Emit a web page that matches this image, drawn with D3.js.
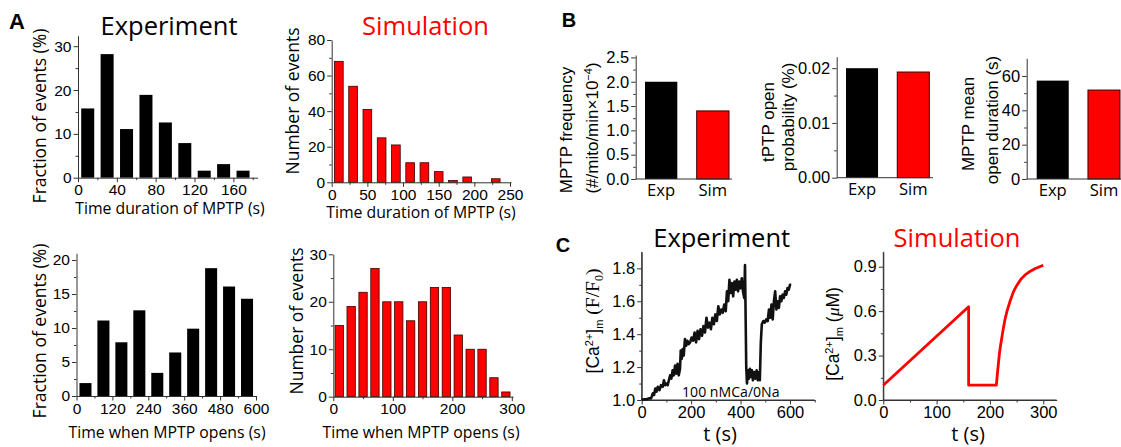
<!DOCTYPE html>
<html><head><meta charset="utf-8">
<script src="https://cdn.jsdelivr.net/npm/d3@7"></script>
<style>
body{margin:0;background:#fff}
.tick text{font-family:"Liberation Sans",Arial,sans-serif;font-size:15.5px;fill:#000}
.big .tick text{font-size:16.5px}
.domain,.tick line{stroke:#333}
</style></head><body>
<svg id="fig" width="1121" height="447"></svg>
<script>
// ---- data ----
var durBinsExp = [10, 30, 50, 70, 90, 110, 130, 150, 170];
var durPctExp = [15.8, 28.2, 11.1, 18.9, 12.6, 7.9, 1.6, 3.1, 1.6];
var durBinsSim = [10, 30, 50, 70, 90, 110, 130, 150, 170, 190, 210, 230];
var durCountSim = [68, 54, 41, 25, 21, 11, 11, 6, 1, 3, 0, 2];
var openBinsExp = [30, 90, 150, 210, 270, 330, 390, 450, 510, 570];
var openPctExp = [1.9, 11.1, 7.9, 12.6, 3.4, 6.4, 9.9, 18.8, 16.1, 14.3];
var openBinsSim = [10, 30, 50, 70, 90, 110, 130, 150, 170, 190, 210, 230, 250, 270, 290];
var openCountSim = [15, 19, 22, 27, 20, 20, 16, 20, 23, 23, 13, 10, 10, 4, 1];

var groups = ["Exp", "Sim"];
var mptpFreq = [2.0, 1.4];
var openProb = [0.020, 0.0193];
var meanDur = [57.3, 51.8];

var expT = [0,10,20,30,38,45,50,55,60,65,72,78,85,90,95,100,105,110,115,120,125,130,135,140,145,150,155,158,162,166,170,175,180,185,190,196,202,208,214,220,226,232,238,244,250,256,262,268,274,280,286,292,298,304,310,316,322,328,334,340,345,350,355,360,365,370,375,380,385,390,395,400,405,410,415,418,421,423,426,430,434,438,442,446,450,455,460,465,470,475,478,482,486,492,498,504,510,515,520,525,530,535,540,545,550,555,560,565,570,575,580,585,590,595,600,605];
var expV = [1.00,1.005,1.005,1.01,1.01,1.04,1.03,1.07,1.05,1.08,1.06,1.09,1.08,1.12,1.09,1.10,1.09,1.12,1.15,1.13,1.18,1.15,1.21,1.16,1.22,1.15,1.19,1.30,1.25,1.31,1.27,1.37,1.33,1.36,1.34,1.35,1.38,1.36,1.41,1.35,1.42,1.37,1.43,1.39,1.45,1.41,1.50,1.44,1.47,1.43,1.50,1.46,1.52,1.48,1.57,1.52,1.55,1.53,1.58,1.54,1.66,1.60,1.73,1.65,1.71,1.63,1.72,1.67,1.73,1.66,1.72,1.68,1.74,1.66,1.62,1.82,1.45,1.20,1.10,1.18,1.13,1.19,1.14,1.18,1.12,1.17,1.13,1.18,1.12,1.17,1.12,1.35,1.46,1.48,1.47,1.49,1.48,1.55,1.50,1.58,1.49,1.60,1.66,1.55,1.60,1.56,1.63,1.60,1.64,1.62,1.66,1.64,1.68,1.67,1.70,1.70];
var simT = [0, 160, 160, 212, 214, 216, 218, 220, 224, 228, 232, 238, 244, 250, 258, 266, 275, 285, 300];
var simV = [0.10, 0.63, 0.10, 0.10, 0.18, 0.25, 0.32, 0.37, 0.46, 0.54, 0.60, 0.67, 0.73, 0.772, 0.815, 0.845, 0.868, 0.888, 0.91];

var svg = d3.select("#fig");
var RED = "#ff0000";
var LAB = '"Open Sans",sans-serif';
var SANS = '"Liberation Sans",Arial,sans-serif';

// draw major + minor ticks for one axis
var drawAxis = function(g, axisFn, scale, pos, major, minor, fmt, vertical){
    var tr = vertical ? "translate(" + pos + ",0)" : "translate(0," + pos + ")";
    var ga = g.append("g").attr("transform", tr);
    ga.call(axisFn(scale).tickValues(minor).tickSize(2.5).tickSizeOuter(0).tickFormat(""));
    ga.select(".domain").remove();
    g.append("g").attr("transform", tr)
        .call(axisFn(scale).tickValues(major).tickSize(4.5).tickPadding(2).tickSizeOuter(0).tickFormat(fmt));
};

var text = function(x, y, s, size, opts){
    opts = opts || {};
    var t = svg.append("text")
        .attr("font-family", opts.font || LAB)
        .attr("font-size", size)
        .attr("text-anchor", opts.anchor || "middle")
        .attr("fill", opts.color || "#000")
        .attr("font-weight", opts.bold ? "bold" : null);
    if (opts.rot) t.attr("transform", "translate(" + x + "," + y + ") rotate(-90)").attr("dy", "0.35em");
    else t.attr("x", x).attr("y", y);
    t.text(s);
    return t;
};

// histogram panel
var histo = function(bins, vals, binW, frac, xr, xd, yr, yd, xt, xm, yt, ym, color){
    var x = d3.scaleLinear().domain(xd).range(xr);
    var y = d3.scaleLinear().domain(yd).range(yr);
    var g = svg.append("g");
    var w = (x(binW) - x(0)) * frac;
    g.selectAll("rect").data(vals).enter().append("rect")
        .attr("x", function(d, i){ return x(bins[i]) - w / 2; })
        .attr("width", w)
        .attr("y", function(d){ return y(d); })
        .attr("height", function(d){ return y(0) - y(d); })
        .attr("fill", color)
        .attr("stroke", color == RED ? "#3a0000" : "none")
        .attr("stroke-width", 0.8);
    drawAxis(g, d3.axisBottom, x, yr[0], xt, xm, d3.format("d"), false);
    drawAxis(g, d3.axisLeft, y, xr[0], yt, ym, d3.format("d"), true);
    return g;
};

histo(durBinsExp, durPctExp, 20, 0.67, [78, 257.6], [0, 185], [177.7, 35.7], [0, 32.4],
      [0, 40, 80, 120, 160], d3.range(20, 185, 40), [0, 10, 20, 30], [5, 15, 25], "#000");
histo(durBinsSim, durCountSim, 20, 0.61, [331.7, 511], [0, 251.4], [182.3, 40], [0, 80],
      [0, 50, 100, 150, 200, 250], [25, 75, 125, 175, 225], [0, 20, 40, 60, 80], [10, 30, 50, 70], RED);
histo(openBinsExp, openPctExp, 60, 0.67, [76.5, 256], [0, 600], [396, 253.2], [0, 21],
      [0, 120, 240, 360, 480, 600], [60, 180, 300, 420, 540], [0, 5, 10, 15, 20], [2.5, 7.5, 12.5, 17.5], "#000");
histo(openBinsSim, openCountSim, 20, 0.7, [333.3, 513], [0, 302], [396.7, 254.3], [0, 30],
      [0, 100, 200, 300], [50, 150, 250], [0, 10, 20, 30], [5, 15, 25], RED);

// bar panels (B)
var barPanel = function(vals, bandR, axisR, yr, yd, yt, ym, fmt){
    var x = d3.scaleBand().domain(groups).range(bandR).paddingInner(0.375);
    var y = d3.scaleLinear().domain(yd).range(yr);
    var g = svg.append("g").attr("class", "big");
    g.selectAll("rect").data(vals).enter().append("rect")
        .attr("x", function(d, i){ return x(groups[i]); })
        .attr("width", x.bandwidth())
        .attr("y", function(d){ return y(d); })
        .attr("height", function(d){ return y(0) - y(d); })
        .attr("fill", function(d, i){ return i ? RED : "#000"; })
        .attr("stroke", function(d, i){ return i ? "#3a0000" : "none"; })
        .attr("stroke-width", 1);
    g.append("line").attr("x1", axisR[0]).attr("x2", axisR[1])
        .attr("y1", yr[0]).attr("y2", yr[0]).attr("stroke", "#333");
    drawAxis(g, d3.axisLeft, y, axisR[0], yt, ym, fmt, true);
    groups.forEach(function(k){
        text(x(k) + x.bandwidth() / 2, yr[0] + 17, k, 16.6);
    });
};

barPanel(mptpFreq, [645, 729], [635.7, 732], [179, 55], [0, 2.55],
         [0, 0.5, 1, 1.5, 2, 2.5], d3.range(0.25, 2.5, 0.5), d3.format(".1f"));
barPanel(openProb, [846, 929.3], [836.7, 933], [177.7, 56.7], [0, 0.0221],
         [0, 0.01, 0.02], [0.005, 0.015], d3.format(".2f"));
barPanel(meanDur, [1036.7, 1120], [1026.7, 1121], [179, 58.3], [0, 70.3],
         [0, 20, 40, 60], [10, 30, 50], d3.format("d"));

// traces (C)
var trace = function(ts, vs, xr, xd, yr, yd, xt, xm, yt, ym, color, sw){
    var x = d3.scaleLinear().domain(xd).range(xr);
    var y = d3.scaleLinear().domain(yd).range(yr);
    var g = svg.append("g").attr("class", "big");
    g.append("line").attr("x1", xr[0]).attr("x2", xr[1]).attr("y1", yr[0]).attr("y2", yr[0]).attr("stroke", "#333");
    g.append("line").attr("x1", xr[0]).attr("x2", xr[0]).attr("y1", yr[0]).attr("y2", yr[1]).attr("stroke", "#333");
    drawAxis(g, d3.axisBottom, x, yr[0], xt, xm, d3.format("d"), false);
    drawAxis(g, d3.axisLeft, y, xr[0], yt, ym, d3.format(".1f"), true);
    var line = d3.line().x(function(d, i){ return x(ts[i]); }).y(function(d){ return y(d); });
    g.append("path").datum(vs).attr("d", line).attr("fill", "none")
        .attr("stroke", color).attr("stroke-width", sw).attr("stroke-linejoin", "round");
};

trace(expT, expV, [641.7, 814.7], [0, 700], [400, 251.9], [1.0, 1.9],
      [0, 200, 400, 600], [100, 300, 500, 700], [1.0, 1.2, 1.4, 1.6, 1.8], [1.1, 1.3, 1.5, 1.7], "#111", 2.6);
trace(simT, simV, [883.3, 1056.6], [0, 325], [400, 251.9], [0, 1.0],
      [0, 100, 200, 300], [50, 150, 250], [0, 0.3, 0.6, 0.9], [0.15, 0.45, 0.75], RED, 2.8);

// ---- text ----
text(17, 28.5, "A", 22, {font: SANS, bold: true});
text(569, 27, "B", 20, {font: SANS, bold: true});
text(563, 252, "C", 20, {font: SANS, bold: true});

text(169, 35, "Experiment", 25.5);
text(425.5, 35, "Simulation", 25.5, {color: RED});
text(721.7, 247, "Experiment", 25.5);
text(957, 247, "Simulation", 25.5, {color: RED});

text(170, 214, "Time duration of MPTP (s)", 15.8);
text(421, 218, "Time duration of MPTP (s)", 15.8);
text(167, 438, "Time when MPTP opens (s)", 15.8);
text(421, 438, "Time when MPTP opens (s)", 15.8);

text(40, 116, "Fraction of events (%)", 17.5, {rot: true});
text(293.3, 101, "Number of events", 17.5, {rot: true});
text(40, 331, "Fraction of events (%)", 17.5, {rot: true});
text(296.7, 321, "Number of events", 17.5, {rot: true});

text(565.7, 130, "MPTP frequency", 17, {rot: true, font: SANS});
var f2 = text(591.7, 128, "(#/mito/min\u00d710", 17, {rot: true, font: SANS});
f2.append("tspan").attr("font-size", 11).attr("dy", -6).text("\u22124");
f2.append("tspan").attr("dy", 6).text(")");
text(768, 122, "tPTP open", 17, {rot: true, font: SANS});
text(788.3, 117, "probability (%)", 17, {rot: true, font: SANS});
text(968.3, 124, "MPTP mean", 17, {rot: true, font: SANS});
text(991.7, 120, "open duration (s)", 17, {rot: true, font: SANS});

text(730.8, 396.5, "100 nMCa/0Na", 14.1);
text(720, 441, "t (s)", 20);
text(968, 441, "t (s)", 20);

var c1 = text(593, 321, "[Ca", 17.5, {rot: true, font: SANS});
c1.append("tspan").attr("font-size", 11).attr("dy", -6).text("2+");
c1.append("tspan").attr("dy", 6).text("]");
c1.append("tspan").attr("font-size", 11).attr("dy", 4).text("m");
c1.append("tspan").attr("dy", -4).attr("font-family", '"Liberation Serif",serif').attr("font-size", 19.5).text(" (F/F");
c1.append("tspan").attr("dy", 4).attr("font-family", '"Liberation Serif",serif').attr("font-size", 12).text("0");
c1.append("tspan").attr("dy", -4).attr("font-family", '"Liberation Serif",serif').attr("font-size", 19.5).text(")");

var c2 = text(833, 334, "[Ca", 17.5, {rot: true, font: SANS});
c2.append("tspan").attr("font-size", 11).attr("dy", -6).text("2+");
c2.append("tspan").attr("dy", 6).text("]");
c2.append("tspan").attr("font-size", 11).attr("dy", 4).text("m");
c2.append("tspan").attr("dy", -4).text(" (");
c2.append("tspan").attr("font-style", "italic").attr("font-family", '"Liberation Serif",serif').text("\u03bc");
c2.append("tspan").text("M)");
</script></body></html>
